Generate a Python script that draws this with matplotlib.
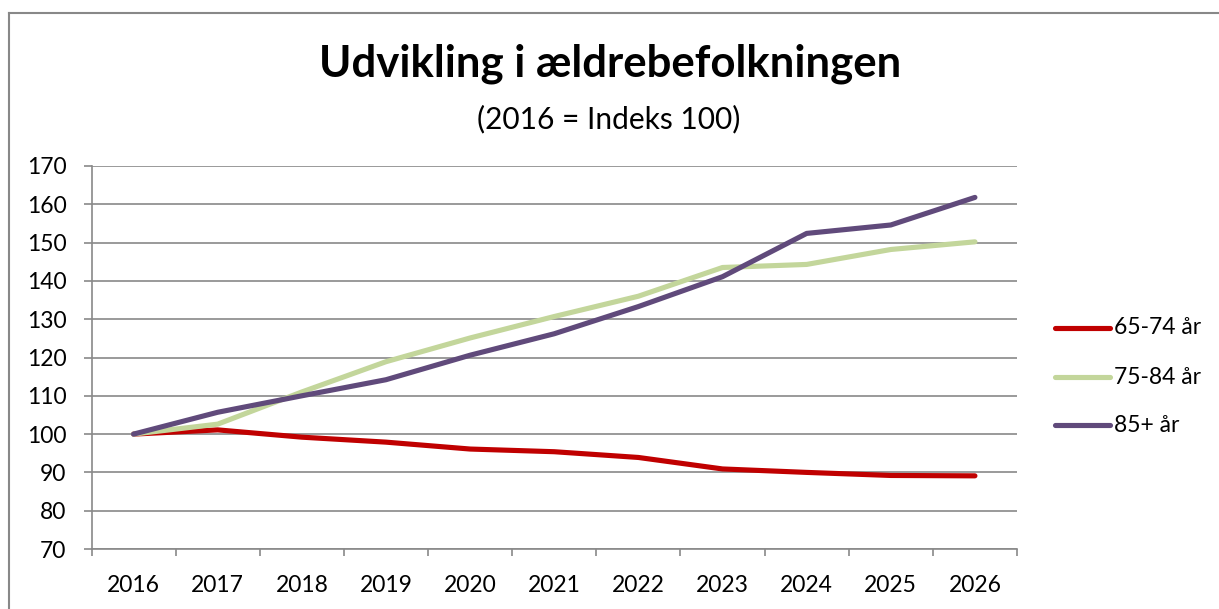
import matplotlib
matplotlib.use("Agg")
import matplotlib.pyplot as plt
from matplotlib.lines import Line2D

years = ["2016", "2017", "2018", "2019", "2020", "2021", "2022", "2023", "2024", "2025", "2026"]
s_65_74 = [100, 101.1, 99.2, 97.9, 96.1, 95.4, 93.9, 90.9, 90.0, 89.2, 89.1]
s_75_84 = [100, 102.6, 111.0, 118.9, 125.1, 130.7, 136.0, 143.5, 144.3, 148.2, 150.2]
s_85 = [100, 105.7, 110.0, 114.2, 120.6, 126.2, 133.3, 141.1, 152.4, 154.6, 161.8]
labels = ["65-74 år", "75-84 år", "85+ år"]
colors = ["#C00000", "#C3D69B", "#604A7B"]
yticks = list(range(70, 171, 10))

plt.rcParams['font.family'] = ['Lato', 'DejaVu Sans']

W, H = 1219, 609
fig = plt.figure(figsize=(W / 100, H / 100), dpi=100)
ax = fig.add_axes([91.5 / W, (H - 549) / H, (1017 - 91.5) / W, (549 - 166) / H])

x = list(range(len(years)))
for data, lab, col in zip([s_65_74, s_75_84, s_85], labels, colors):
    ax.plot(x, data, color=col, lw=3.7, solid_capstyle='round', solid_joinstyle='round', label=lab, zorder=3)

grid_col = "#898989"
ax.set_xlim(-0.5, len(years) - 0.5)
ax.set_ylim(70, 170)
ax.set_yticks(yticks)
ax.set_yticklabels([str(t) for t in yticks], fontsize=16.5)
ax.set_xticks(x)
ax.set_xticklabels(years, fontsize=16.5)
ax.set_xticks([i - 0.5 for i in range(len(years) + 1)], minor=True)
ax.tick_params(axis='x', which='major', length=0, pad=18.5)
ax.tick_params(axis='x', which='minor', length=5, width=1.2, color=grid_col, direction='out')
ax.tick_params(axis='y', which='major', length=6, width=1.2, color=grid_col, pad=12)
ax.grid(axis='y', color=grid_col, lw=1.2, zorder=1)
ax.set_axisbelow(True)
for side in ['top', 'right']:
    ax.spines[side].set_visible(False)
for side in ['left', 'bottom']:
    ax.spines[side].set_color(grid_col)
    ax.spines[side].set_linewidth(1.2)

fig.text(610 / W, 1 - 77 / H, "Udvikling i ældrebefolkningen", ha='center', va='baseline',
         fontsize=31.5, fontweight='bold')
fig.text(609 / W, 1 - 128 / H, "(2016 = Indeks 100)", ha='center', va='baseline', fontsize=21.5)

# legend
leg_y = [328, 377, 425]
for lab, col, yy in zip(labels, colors, leg_y):
    fig.add_artist(Line2D([1055 / W, 1110 / W], [1 - yy / H, 1 - yy / H], color=col, lw=3.7,
                          solid_capstyle='round'))
    fig.text(1114 / W, 1 - yy / H, lab, ha='left', va='center', fontsize=16.5)

# chart border
fig.add_artist(Line2D([9 / W, 9 / W], [0, 1 - 12.5 / H], color="#888888", lw=1.5))
fig.add_artist(Line2D([9 / W, 1], [1 - 12.5 / H, 1 - 12.5 / H], color="#888888", lw=1.5))

fig.savefig("out.png", dpi=100, facecolor='white')
